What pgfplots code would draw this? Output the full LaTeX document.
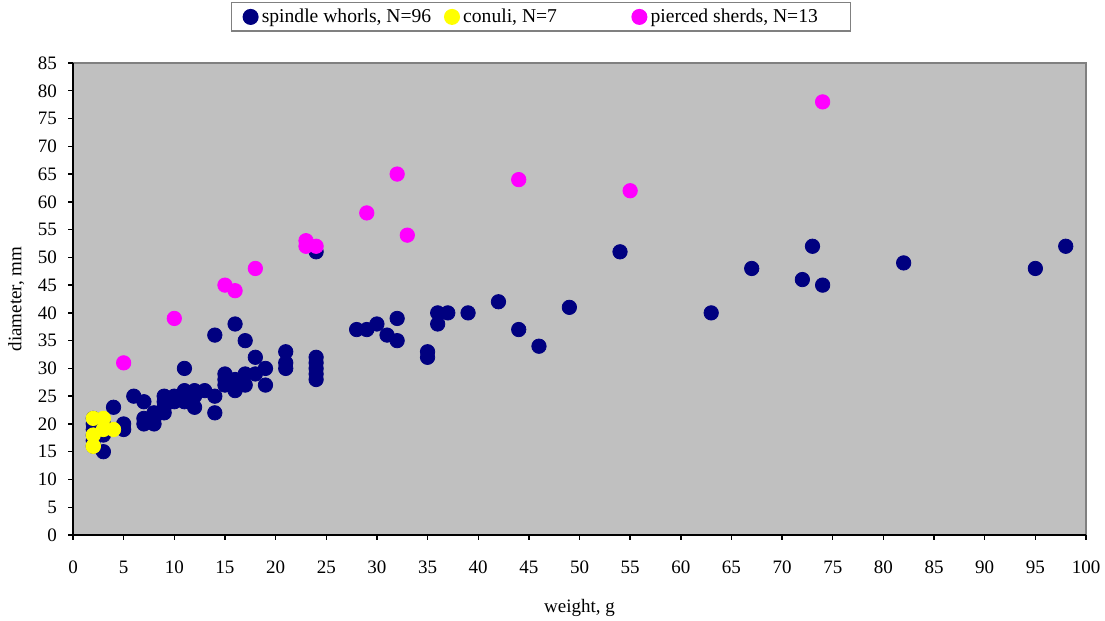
\documentclass[border=0pt]{standalone}
\usepackage{fontspec}
\setmainfont{Liberation Serif}
\usepackage{pgfplots}
\pgfplotsset{compat=1.18}

\definecolor{plotgray}{HTML}{C0C0C0}
\definecolor{framegray}{HTML}{808080}
\definecolor{whorl}{HTML}{000080}
\definecolor{conul}{HTML}{FFFF00}
\definecolor{sherd}{HTML}{FF00FF}

% fixed-width legend cell, left aligned
\newcommand{\legcell}[2]{\makebox[#1][l]{#2}}

\begin{document}
\begin{tikzpicture}[font=\fontsize{9.5pt}{11pt}\selectfont]
\begin{axis}[
  at={(36.5pt,43pt)}, anchor=south west,
  scale only axis,
  width=506.5pt, height=236pt,
  xmin=0, xmax=100, ymin=0, ymax=85,
  xtick={0,5,...,100}, ytick={0,5,...,85},
  axis background/.style={fill=plotgray, draw=framegray, line width=1.2pt},
  axis x line*=bottom, axis y line*=left,
  axis line style={black, line width=0.7pt, -},
  tick style={black, line width=0.7pt},
  tick align=outside, major tick length=2.5pt,
  /pgf/number format/assume math mode=true,
  xticklabel style={yshift=-7pt},
  yticklabel style={xshift=-2pt},
  xlabel={weight, g}, ylabel={diameter, mm},
  xlabel style={yshift=-6pt},
  legend columns=3,
  legend style={at={(0.462,1)}, anchor=south, yshift=15.5pt,
    draw=framegray, line width=0.8pt, fill=white,
    inner xsep=6pt, inner ysep=1pt,
    font=\fontsize{9.8pt}{11.5pt}\selectfont,
    /tikz/every even column/.append style={column sep=0pt}},
  legend cell align=left,
  clip=false,
]
% spindle whorls
\addplot[only marks, mark=*, mark size=3.6pt, color=whorl, mark options={draw=whorl, fill=whorl}] coordinates {
(2,21) (2,20) (2,19) (2,18) (2,17) (2,16)
(3,20) (3,18) (3,15) (4,23) (5,20) (5,19) (6,25)
(7,24) (7,21) (7,20) (8,22) (8,21) (8,20)
(9,25) (9,24) (9,23) (9,22) (10,25) (10,24)
(11,30) (11,26) (11,25) (11,24) (12,26) (12,25) (12,23) (13,26)
(14,36) (14,25) (14,22) (15,29) (15,28) (15,27)
(16,38) (16,28) (16,27) (16,26) (17,35) (17,29) (17,27)
(18,32) (18,29) (19,30) (19,27)
(21,33) (21,31) (21,30)
(24,51) (24,32) (24,31) (24,30) (24,29) (24,28)
(28,37) (29,37) (30,38) (31,36) (32,39) (32,35)
(35,33) (35,32) (36,40) (36,38) (37,40) (39,40)
(42,42) (44,37) (46,34) (49,41) (54,51) (63,40)
(67,48) (72,46) (73,52) (74,45) (82,49) (95,48) (98,52)
};
\addlegendentry{\legcell{89.5pt}{spindle whorls, N=96}}
% conuli
\addplot[only marks, mark=*, mark size=3.6pt, color=conul, mark options={draw=conul, fill=conul}] coordinates {
(2,21) (3,21) (3,19) (4,19) (2,18) (2,16) (2,16)
};
\addlegendentry{\legcell{82.5pt}{conuli, N=7}}
% pierced sherds
\addplot[only marks, mark=*, mark size=3.6pt, color=sherd, mark options={draw=sherd, fill=sherd}] coordinates {
(5,31) (10,39) (15,45) (16,44) (18,48) (23,53) (23,52) (24,52)
(29,58) (32,65) (33,54) (44,64) (55,62) (74,78)
};
\addlegendentry{\legcell{92pt}{pierced sherds, N=13}}
\end{axis}
\pgfresetboundingbox
\path[use as bounding box] (0,0) rectangle (552.5pt,310.5pt);
\end{tikzpicture}
\end{document}
